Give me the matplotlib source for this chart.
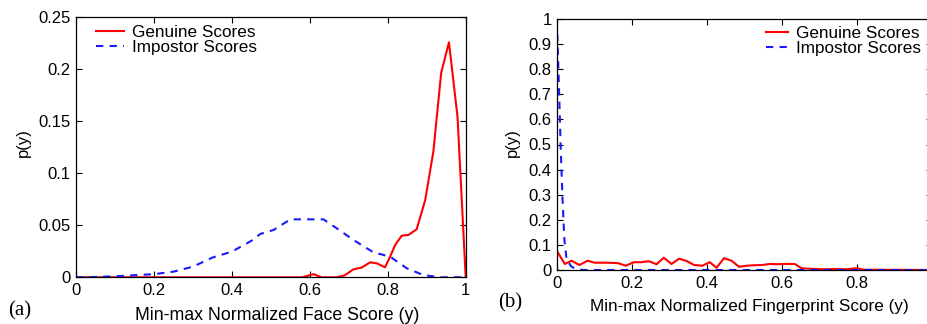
import matplotlib
matplotlib.use("Agg")
import matplotlib.pyplot as plt

# (a) face scores
face_gen_x = [0.0, 0.58, 0.61, 0.63, 0.67, 0.69, 0.712, 0.733, 0.755, 0.772, 0.793,
              0.806, 0.819, 0.836, 0.853, 0.874, 0.896, 0.917, 0.937, 0.957, 0.979, 1.0]
face_gen_y = [0.0, 0.0, 0.003, 0.0, 0.0, 0.002, 0.0077, 0.0093, 0.0144, 0.0134, 0.0096,
              0.0198, 0.031, 0.040, 0.0406, 0.046, 0.074, 0.1205, 0.196, 0.2254, 0.154, 0.0]
face_imp_x = [0.0, 0.05, 0.1, 0.15, 0.2, 0.25, 0.3, 0.35, 0.4, 0.45, 0.473, 0.507,
              0.55, 0.6, 0.635, 0.669, 0.712, 0.763, 0.806, 0.849, 0.891, 0.934, 1.0]
face_imp_y = [0.0, 0.0003, 0.001, 0.002, 0.003, 0.0054, 0.0102, 0.0189, 0.0246, 0.035,
              0.0416, 0.0454, 0.0556, 0.0556, 0.0556, 0.047, 0.0358, 0.024, 0.0198,
              0.0086, 0.0022, 0.0, 0.0]

# (b) fingerprint scores
fp_gen_x = [0.0, 0.020, 0.038, 0.059, 0.081, 0.10, 0.14, 0.163, 0.183, 0.204, 0.223,
            0.244, 0.265, 0.284, 0.305, 0.325, 0.345, 0.365, 0.387, 0.407, 0.425,
            0.445, 0.465, 0.485, 0.505, 0.527, 0.548, 0.567, 0.588, 0.607, 0.634,
            0.652, 0.674, 0.709, 0.736, 0.772, 0.798, 0.82, 0.86, 1.0]
fp_gen_y = [0.073, 0.024, 0.037, 0.02, 0.037, 0.029, 0.029, 0.027, 0.017, 0.031, 0.031,
            0.035, 0.023, 0.049, 0.024, 0.045, 0.036, 0.02, 0.017, 0.031, 0.009,
            0.047, 0.037, 0.013, 0.017, 0.019, 0.02, 0.024, 0.023, 0.024, 0.024,
            0.007, 0.005, 0.003, 0.004, 0.003, 0.007, 0.001, 0.001, 0.0]
fp_imp_x = [0.0, 0.005, 0.009, 0.014, 0.019, 0.025, 0.038, 0.052, 0.07, 1.0]
fp_imp_y = [0.94, 0.70, 0.49, 0.28, 0.12, 0.04, 0.013, 0.003, 0.0, 0.0]

plt.rcParams["font.family"] = ["Liberation Sans", "DejaVu Sans"]
plt.rcParams["font.size"] = 12

W, H = 928, 324
fig = plt.figure(figsize=(W / 100, H / 100), dpi=100)


def px_axes(x0, x1, y_top, y_bot):
    return fig.add_axes([x0 / W, (H - y_bot) / H, (x1 - x0) / W, (y_bot - y_top) / H])


def style(ax):
    ax.tick_params(direction="in", top=True, right=True, length=4, width=0.8,
                   labelsize=12, pad=4)
    for s in ax.spines.values():
        s.set_linewidth(0.9)


red = "#ff0000"
blue = "#1a1aff"

ax1 = px_axes(76, 465.7, 16.7, 277.3)
ax1.plot(face_gen_x, face_gen_y, color=red, lw=1.5, label="Genuine Scores")
ax1.plot(face_imp_x, face_imp_y, color=blue, lw=1.5, ls=(0, (3.5, 3)), label="Impostor Scores")
ax1.set_xlim(0, 1)
ax1.set_ylim(0, 0.25)
ax1.set_xticks([0, 0.2, 0.4, 0.6, 0.8, 1])
ax1.set_xticklabels(["0", "0.2", "0.4", "0.6", "0.8", "1"])
ax1.set_yticks([0, 0.05, 0.1, 0.15, 0.2, 0.25])
ax1.set_yticklabels(["0", "0.05", "0.1", "0.15", "0.2", "0.25"])
style(ax1)
ax1.legend(loc="upper left", frameon=False, fontsize=12.3, handlelength=1.6,
           handletextpad=0.5, labelspacing=0.0, borderaxespad=0.0,
           bbox_to_anchor=(0.035, 0.995))

ax2 = px_axes(557.3, 931.9, 19, 270)
ax2.plot(fp_gen_x, fp_gen_y, color=red, lw=1.5, label="Genuine Scores")
ax2.plot(fp_imp_x, fp_imp_y, color=blue, lw=1.5, ls=(0, (3.5, 3)), label="Impostor Scores")
ax2.set_xlim(0, 1)
ax2.set_ylim(0, 1)
ax2.set_xticks([0, 0.2, 0.4, 0.6, 0.8, 1])
ax2.set_xticklabels(["0", "0.2", "0.4", "0.6", "0.8", ""])
ax2.set_yticks([i / 10 for i in range(11)])
ax2.set_yticklabels(["0", "0.1", "0.2", "0.3", "0.4", "0.5", "0.6", "0.7", "0.8", "0.9", "1"])
style(ax2)
ax2.legend(loc="upper right", frameon=False, fontsize=12.3, handlelength=1.3,
           handletextpad=0.5, labelspacing=0.0, borderaxespad=0.0,
           bbox_to_anchor=(0.99, 1.0))

fig.text(23 / W, (H - 143) / H, "p(y)", rotation=90, ha="center", va="center", fontsize=12)
fig.text(512 / W, (H - 143) / H, "p(y)", rotation=90, ha="center", va="center", fontsize=12)
fig.text(277 / W, (H - 315) / H, "Min-max Normalized Face Score (y)", ha="center",
         va="center", fontsize=12.8)
fig.text(749 / W, (H - 306) / H, "Min-max Normalized Fingerprint Score (y)", ha="center",
         va="center", fontsize=12.3)
fig.text(8 / W, (H - 311) / H, "(a)", ha="left", va="center", fontsize=15,
         family=["Liberation Serif", "DejaVu Serif"])
fig.text(498 / W, (H - 303) / H, "(b)", ha="left", va="center", fontsize=15,
         family=["Liberation Serif", "DejaVu Serif"])

fig.savefig("out.png", dpi=100)
